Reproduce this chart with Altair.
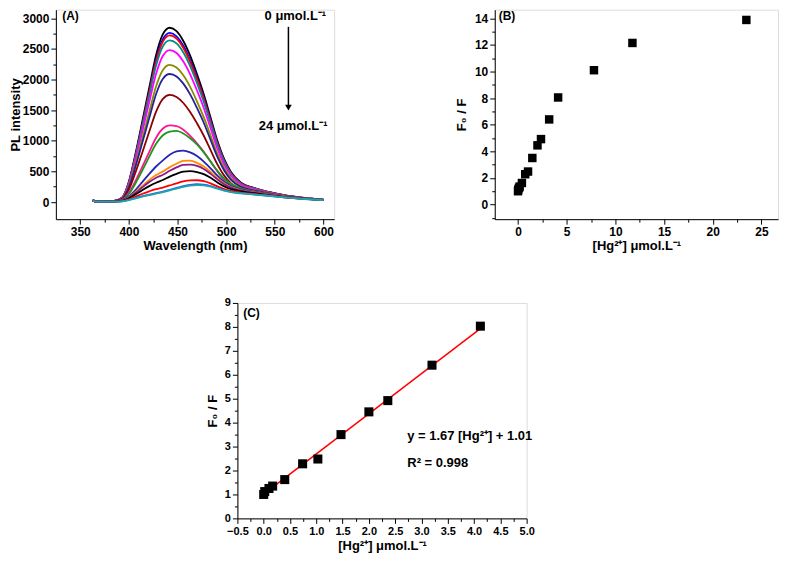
import altair as alt
import pandas as pd

FONT = "Liberation Sans"

# ---------------- Panel (A): PL spectra ----------------
wavelength = [363, 366, 375, 385, 393, 400, 407, 414, 421, 428, 435, 442, 449, 456,
              463, 470, 477, 484, 491, 498, 505, 515, 530, 545, 560, 580, 600]

pl_01 = [40, 5, 5, 20, 70, 330, 800, 1330, 1870, 2400, 2740, 2845, 2790, 2630, 2390, 2090, 1760, 1380, 1000, 700, 490, 320, 225, 160, 112, 68, 38]
pl_02 = [38, 5, 5, 19, 68, 320, 776, 1290, 1814, 2328, 2658, 2760, 2706, 2551, 2318, 2027, 1707, 1339, 970, 679, 475, 312, 220, 157, 110, 67, 38]
pl_03 = [38, 5, 5, 19, 67, 315, 765, 1271, 1788, 2294, 2619, 2720, 2667, 2514, 2285, 1998, 1683, 1319, 956, 669, 468, 308, 218, 156, 109, 66, 37]
pl_04 = [37, 5, 5, 18, 65, 306, 742, 1234, 1735, 2227, 2543, 2640, 2589, 2441, 2218, 1940, 1633, 1281, 928, 650, 455, 300, 214, 153, 107, 65, 37]
pl_05 = [37, 5, 5, 17, 61, 288, 698, 1160, 1631, 2093, 2389, 2480, 2433, 2293, 2084, 1822, 1535, 1203, 872, 610, 428, 285, 205, 148, 104, 64, 36]
pl_06 = [36, 5, 5, 16, 55, 260, 630, 1047, 1472, 1889, 2157, 2240, 2196, 2070, 1881, 1645, 1385, 1086, 787, 551, 386, 262, 192, 140, 100, 62, 35]
pl_07 = [36, 5, 5, 15, 51, 243, 588, 978, 1374, 1764, 2014, 2090, 2051, 1933, 1757, 1536, 1294, 1014, 735, 515, 362, 248, 185, 136, 98, 61, 35]
pl_08 = [35, 5, 5, 13, 43, 203, 492, 818, 1150, 1476, 1685, 1750, 1716, 1617, 1470, 1285, 1082, 849, 615, 431, 305, 220, 168, 125, 90, 58, 34]
pl_09 = [30, 5, 5, 12, 35, 150, 350, 580, 820, 1050, 1200, 1250, 1240, 1180, 1080, 960, 820, 660, 500, 370, 290, 225, 170, 128, 92, 58, 34]
pl_10 = [30, 5, 5, 11, 32, 130, 310, 520, 740, 950, 1090, 1150, 1160, 1120, 1040, 940, 810, 660, 510, 380, 295, 222, 168, 126, 91, 58, 34]
pl_11 = [28, 5, 5, 10, 25, 90, 200, 330, 460, 580, 680, 770, 825, 838, 810, 750, 660, 550, 430, 330, 262, 205, 158, 120, 88, 56, 33]
pl_12 = [27, 5, 5, 9, 22, 75, 165, 265, 360, 440, 500, 570, 625, 670, 675, 640, 580, 490, 390, 305, 245, 195, 152, 117, 86, 55, 33]
pl_13 = [27, 5, 5, 9, 20, 68, 150, 240, 325, 395, 445, 510, 565, 605, 612, 590, 540, 460, 370, 290, 235, 190, 148, 115, 85, 55, 32]
pl_14 = [26, 5, 5, 8, 18, 60, 125, 195, 260, 315, 360, 415, 460, 495, 505, 490, 455, 395, 320, 255, 210, 175, 140, 110, 82, 54, 32]
pl_15 = [25, 5, 5, 7, 15, 45, 90, 135, 175, 210, 235, 270, 305, 335, 352, 355, 340, 305, 255, 210, 180, 155, 128, 103, 78, 51, 30]
pl_16 = [25, 5, 5, 6, 12, 35, 65, 95, 120, 145, 170, 200, 230, 260, 280, 290, 282, 260, 225, 190, 165, 145, 122, 100, 75, 50, 30]
pl_17 = [25, 5, 5, 6, 11, 32, 60, 88, 112, 137, 162, 190, 220, 248, 268, 276, 270, 250, 218, 185, 160, 140, 120, 98, 74, 49, 30]

curve_colors = ["#000000", "#0000FF", "#FF0000", "#008B8B", "#FF00FF", "#8B8B00",
                "#22229A", "#8B0000", "#FF1493", "#1E961E", "#2525B5", "#FF8C00",
                "#8B1A8B", "#000000", "#FF0000", "#1E5AFF", "#20A5A5"]

# ---------------- Panel (B) and (C): Stern-Volmer data ----------------
hg_B = [0.0, 0.02, 0.1, 0.17, 0.4, 0.74, 1.03, 1.47, 2.0, 2.36, 3.2, 4.12, 7.8, 11.75, 23.45]
ratio_B = [1.0, 1.12, 1.25, 1.35, 1.62, 2.28, 2.48, 3.5, 4.45, 4.92, 6.4, 8.05, 10.1, 12.15, 13.88]

hg_C = [0.0, 0.02, 0.1, 0.17, 0.4, 0.74, 1.03, 1.47, 2.0, 2.36, 3.2, 4.12]
ratio_C = [1.0, 1.12, 1.25, 1.35, 1.62, 2.28, 2.48, 3.5, 4.45, 4.92, 6.4, 8.03]

fit_x = [0.0, 4.12]
fit_y = [1.01, 7.93]

unit_title = "[Hg²⁺]  μmol.L⁻¹"
ratio_title = "F₀ / F"


def main_axis(values, title, tp, fmt, size=12):
    return alt.Axis(values=values, title=title, titlePadding=tp, format=fmt, grid=False,
                    labelOverlap=False, labelFlush=False, labelFont=FONT,
                    labelFontWeight="bold", labelFontSize=size, labelColor="black",
                    titleFont=FONT, titleFontWeight="bold", titleFontSize=13,
                    titleColor="black", tickSize=5, tickColor="black",
                    domainColor="black", labelPadding=2)


def minor_axis(values, orient):
    return alt.Axis(values=values, labels=False, domain=False, grid=False, tickSize=3,
                    tickColor="black", title=None, orient=orient)


def text_layer(x, y, txt, xs, ys, size=13):
    d = pd.DataFrame({"x": [x], "y": [y], "t": [txt]})
    return alt.Chart(d).mark_text(align="left", baseline="middle", font=FONT,
                                  fontWeight="bold", fontSize=size, color="black").encode(
        x=alt.X("x:Q", scale=xs, axis=None),
        y=alt.Y("y:Q", scale=ys, axis=None),
        text="t:N")


# ----- Panel A -----
curves = [pl_01, pl_02, pl_03, pl_04, pl_05, pl_06, pl_07, pl_08, pl_09,
          pl_10, pl_11, pl_12, pl_13, pl_14, pl_15, pl_16, pl_17]
series_ids = [f"c{i + 1:02d}" for i in range(len(curves))]
rows = []
for sid, vals in zip(series_ids, curves):
    for w, v in zip(wavelength, vals):
        rows.append({"series": sid, "wl": w, "pl": v})
dfA = pd.DataFrame(rows)

xA = alt.Scale(domain=[325, 611], nice=False, zero=False)
yA = alt.Scale(domain=[-280, 3140], nice=False, zero=False)

linesA = alt.Chart(dfA).mark_line(strokeWidth=1.8, interpolate="monotone").encode(
    x=alt.X("wl:Q", scale=xA, axis=main_axis([350, 400, 450, 500, 550, 600], "Wavelength (nm)", 2, "d")),
    y=alt.Y("pl:Q", scale=yA, axis=main_axis([0, 500, 1000, 1500, 2000, 2500, 3000], "PL intensity", 0, "d")),
    color=alt.Color("series:N", scale=alt.Scale(domain=series_ids, range=curve_colors), legend=None),
)
minorA = alt.Chart(dfA).mark_point(opacity=0).encode(
    x=alt.X("wl:Q", scale=xA, axis=minor_axis([375, 425, 475, 525, 575], "bottom")),
    y=alt.Y("pl:Q", scale=yA, axis=minor_axis([250, 750, 1250, 1750, 2250, 2750], "left")),
)
arrow_d = pd.DataFrame({"x": [564], "y": [2860], "y2": [1540]})
arrow_line = alt.Chart(arrow_d).mark_rule(color="black", strokeWidth=1.5).encode(
    x=alt.X("x:Q", scale=xA, axis=None),
    y=alt.Y("y:Q", scale=yA, axis=None),
    y2="y2:Q")
arrow_head = alt.Chart(arrow_d).mark_point(shape="triangle-down", filled=True, color="black",
                                           size=45, opacity=1).encode(
    x=alt.X("x:Q", scale=xA, axis=None),
    y=alt.Y("y2:Q", scale=yA, axis=None))

panelA = alt.layer(
    linesA, minorA, arrow_line, arrow_head,
    text_layer(331.5, 3040, "(A)", xA, yA, 12),
    text_layer(539.5, 3034, "0  μmol.L⁻¹", xA, yA),
    text_layer(533.5, 1234, "24  μmol.L⁻¹", xA, yA),
).resolve_axis(x="independent", y="independent").properties(width=279, height=210)

# ----- Panel B -----
dfB = pd.DataFrame({"hg": hg_B, "ratio": ratio_B})
xB = alt.Scale(domain=[-2.39, 26.7], nice=False, zero=False)
yB = alt.Scale(domain=[-1.1, 14.65], nice=False, zero=False)
ptsB = alt.Chart(dfB).mark_point(shape="square", filled=True, color="black", size=72, opacity=1).encode(
    x=alt.X("hg:Q", scale=xB, axis=main_axis([0, 5, 10, 15, 20, 25], unit_title, 2, "d")),
    y=alt.Y("ratio:Q", scale=yB, axis=main_axis([0, 2, 4, 6, 8, 10, 12, 14], ratio_title, 6, "d")),
)
minorB = alt.Chart(dfB).mark_point(opacity=0).encode(
    x=alt.X("hg:Q", scale=xB, axis=minor_axis([2.5, 7.5, 12.5, 17.5, 22.5], "bottom")),
    y=alt.Y("ratio:Q", scale=yB, axis=minor_axis([-1, 1, 3, 5, 7, 9, 11, 13], "left")),
)
panelB = alt.layer(
    ptsB, minorB, text_layer(-1.98, 14.2, "(B)", xB, yB, 12)
).resolve_axis(x="independent", y="independent").properties(width=284, height=210)

# ----- Panel C -----
dfC = pd.DataFrame({"hg": hg_C, "ratio": ratio_C})
dfFit = pd.DataFrame({"hg": fit_x, "ratio": fit_y})
xC = alt.Scale(domain=[-0.5, 5.0], nice=False, zero=False)
yC = alt.Scale(domain=[0, 9], nice=False, zero=False)
fitC = alt.Chart(dfFit).mark_line(color="#FF0000", strokeWidth=1.5).encode(
    x=alt.X("hg:Q", scale=xC, axis=main_axis([-0.5, 0, 0.5, 1, 1.5, 2, 2.5, 3, 3.5, 4, 4.5, 5],
                                              unit_title, 3, ".1f", 11)),
    y=alt.Y("ratio:Q", scale=yC, axis=main_axis([0, 1, 2, 3, 4, 5, 6, 7, 8, 9], ratio_title, 5, "d", 11)),
)
ptsC = alt.Chart(dfC).mark_point(shape="square", filled=True, color="black", size=82, opacity=1).encode(
    x=alt.X("hg:Q", scale=xC, axis=None),
    y=alt.Y("ratio:Q", scale=yC, axis=None),
)
minorC = alt.Chart(dfC).mark_point(opacity=0).encode(
    x=alt.X("hg:Q", scale=xC, axis=minor_axis([-0.25, 0.25, 0.75, 1.25, 1.75, 2.25, 2.75, 3.25, 3.75, 4.25, 4.75], "bottom")),
    y=alt.Y("ratio:Q", scale=yC, axis=minor_axis([0.5, 1.5, 2.5, 3.5, 4.5, 5.5, 6.5, 7.5, 8.5], "left")),
)
panelC = alt.layer(
    fitC, ptsC, minorC,
    text_layer(-0.39, 8.6, "(C)", xC, yC, 12),
    text_layer(2.73, 3.46, "y = 1.67 [Hg²⁺] + 1.01", xC, yC, 13),
    text_layer(2.73, 2.3, "R² = 0.998", xC, yC, 13),
).resolve_axis(x="independent", y="independent").properties(width=290, height=216)

spacer = alt.Chart(pd.DataFrame({"v": [0]})).mark_point(opacity=0).encode(
    x=alt.value(10), y=alt.value(10)
).properties(width=182, height=216,
             view=alt.ViewBackground(stroke="transparent", strokeWidth=0))

row1 = alt.hconcat(panelA, panelB, spacing=161, bounds="flush")
row2 = alt.hconcat(spacer, panelC, spacing=0, bounds="flush")

chart = alt.vconcat(row1, row2, spacing=43).properties(
    padding={"left": 0, "top": 0, "right": 0, "bottom": 0}
).configure_view(strokeWidth=0, stroke="transparent").configure(background="white")

chart.save("out.html", embed_options={"renderer": "svg", "actions": False})
